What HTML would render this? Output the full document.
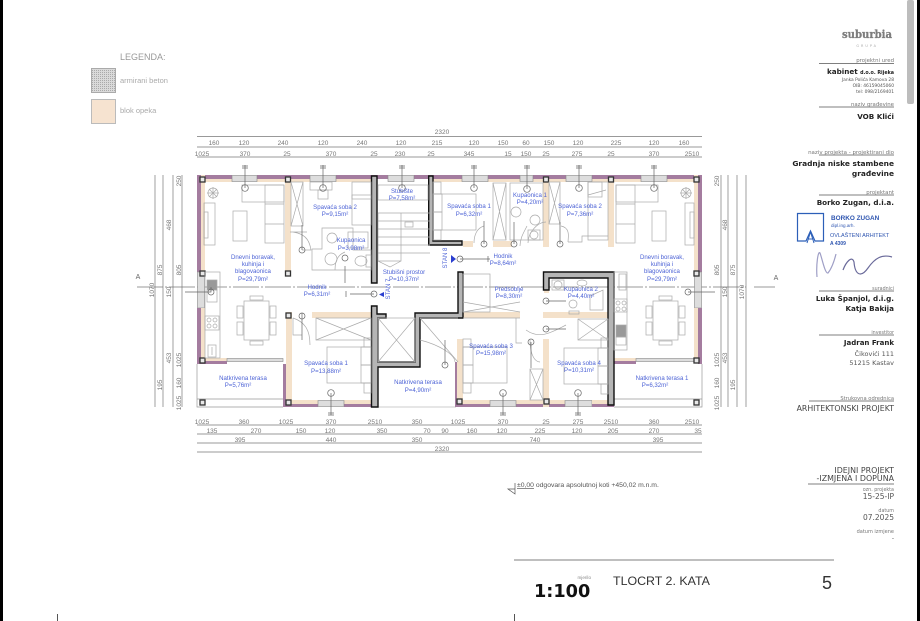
<!DOCTYPE html>
<html><head><meta charset="utf-8"><style>
html,body{margin:0;padding:0;background:#fff;width:920px;height:621px;overflow:hidden}
svg{display:block;font-family:"Liberation Sans",sans-serif;filter:blur(.3px)}
.d{font-size:6.5px;fill:#777;text-anchor:middle}
.l line,.l path{stroke:#777;stroke-width:.7;fill:none}
.r{font-size:6.1px;fill:#4d63d6;text-anchor:middle}
.f *{fill:none;stroke:#aaa;stroke-width:.7}
.m *{fill:none;stroke:#666;stroke-width:.7}
.t{fill:#f4e1ca}
.p{fill:#a47c9f}
.w{fill:#ddd;stroke:#888;stroke-width:.6}
.k{fill:#b5b5b5;stroke:#111;stroke-width:1.4}
.s{font-family:"DejaVu Sans",sans-serif;text-anchor:end}
.h{font-size:5.4px;fill:#777}
.b{font-size:7.2px;font-weight:bold;fill:#222}
.g{stroke:#555;stroke-width:.7}
</style></head><body>
<svg width="920" height="621" viewBox="0 0 920 621" xmlns="http://www.w3.org/2000/svg">
<defs><pattern id="hx" width="2" height="2" patternUnits="userSpaceOnUse"><rect width="2" height="2" fill="#dadada"/><rect width="1" height="1" fill="#aaa"/></pattern></defs>
<rect x="0" y="0" width="3" height="621" fill="#000"/>
<rect x="917" y="0" width="3" height="621" fill="#000"/>
<rect x="907" y="0" width="7" height="104" rx="2" fill="#bdbdbd"/>
<rect x="57" y="614" width="1" height="7" fill="#555"/>
<rect x="514" y="614" width="1" height="7" fill="#555"/>

<!-- legend -->
<text x="120" y="60" font-size="9" fill="#999">LEGENDA:</text>
<rect x="91.500" y="68.500" width="24" height="24" fill="url(#hx)" stroke="#aaa"/>
<text x="120" y="83" font-size="7.500" fill="#aaa">armirani beton</text>
<rect x="91.500" y="99.500" width="24" height="24" fill="#f6e3d0" stroke="#bbb"/>
<text x="120" y="113" font-size="7.500" fill="#aaa">blok opeka</text>

<!-- dimension lines -->
<g class="l">
<line x1="197" y1="136.500" x2="702" y2="136.500"/>
<line x1="197" y1="147" x2="702" y2="147"/>
<line x1="197" y1="157" x2="702" y2="157"/>
<line x1="197" y1="425" x2="702" y2="425"/>
<line x1="197" y1="434" x2="702" y2="434"/>
<line x1="197" y1="443" x2="702" y2="443"/>
<line x1="197" y1="452" x2="702" y2="452"/>
<line x1="155" y1="175" x2="155" y2="407"/>
<line x1="163" y1="175" x2="163" y2="407"/>
<line x1="173" y1="175" x2="173" y2="407"/>
<line x1="182" y1="175" x2="182" y2="407"/>
<line x1="721" y1="175" x2="721" y2="407"/>
<line x1="728" y1="175" x2="728" y2="407"/>
<line x1="737" y1="175" x2="737" y2="407"/>
<line x1="746" y1="175" x2="746" y2="407"/>
<path stroke-dasharray="26 2 2 2" d="M137 287H746"/>
<path d="M754 287H775"/>
</g>
<g class="d">
<text x="442" y="134">2320</text>
<text x="214" y="145">160</text><text x="244" y="145">120</text><text x="283" y="145">240</text><text x="323" y="145">120</text><text x="362" y="145">240</text><text x="401" y="145">120</text><text x="437" y="145">215</text><text x="474" y="145">120</text><text x="503" y="145">150</text><text x="526" y="145">60</text><text x="549" y="145">150</text><text x="578" y="145">120</text><text x="616" y="145">225</text><text x="654" y="145">120</text><text x="684" y="145">160</text>
<text x="202" y="156">1025</text><text x="245" y="156">370</text><text x="287" y="156">25</text><text x="331" y="156">370</text><text x="374" y="156">25</text><text x="400" y="156">230</text><text x="431" y="156">25</text><text x="469" y="156">345</text><text x="508" y="156">15</text><text x="526" y="156">150</text><text x="546" y="156">25</text><text x="577" y="156">275</text><text x="611" y="156">25</text><text x="654" y="156">370</text><text x="692" y="156">2510</text>
<text x="202" y="424">1025</text><text x="244" y="424">360</text><text x="286" y="424">1025</text><text x="331" y="424">370</text><text x="375" y="424">2510</text><text x="417" y="424">350</text><text x="458" y="424">1025</text><text x="503" y="424">370</text><text x="546" y="424">25</text><text x="578" y="424">275</text><text x="611" y="424">2510</text><text x="654" y="424">360</text><text x="692" y="424">2510</text>
<text x="212" y="433">135</text><text x="256" y="433">270</text><text x="301" y="433">150</text><text x="330" y="433">120</text><text x="382" y="433">350</text><text x="427" y="433">70</text><text x="445" y="433">90</text><text x="472" y="433">160</text><text x="502" y="433">120</text><text x="540" y="433">225</text><text x="577" y="433">120</text><text x="613" y="433">205</text><text x="654" y="433">270</text><text x="698" y="433">35</text>
<text x="240" y="442">395</text><text x="331" y="442">440</text><text x="417" y="442">350</text><text x="535" y="442">740</text><text x="658" y="442">395</text>
<text x="442" y="451">2320</text>
<text transform="translate(181,181) rotate(-90)">250</text>
<text transform="translate(171,225) rotate(-90)">468</text>
<text transform="translate(162,270) rotate(-90)">875</text>
<text transform="translate(181,270) rotate(-90)">805</text>
<text transform="translate(154,290) rotate(-90)">1070</text>
<text transform="translate(171,292) rotate(-90)">150</text>
<text transform="translate(171,358) rotate(-90)">453</text>
<text transform="translate(181,360) rotate(-90)">1025</text>
<text transform="translate(162,385) rotate(-90)">195</text>
<text transform="translate(181,383) rotate(-90)">160</text>
<text transform="translate(181,403) rotate(-90)">1025</text>
<text transform="translate(719,181) rotate(-90)">250</text>
<text transform="translate(727,225) rotate(-90)">468</text>
<text transform="translate(719,270) rotate(-90)">805</text>
<text transform="translate(735,270) rotate(-90)">875</text>
<text transform="translate(727,292) rotate(-90)">150</text>
<text transform="translate(744,292) rotate(-90)">1070</text>
<text transform="translate(719,360) rotate(-90)">1025</text>
<text transform="translate(727,358) rotate(-90)">453</text>
<text transform="translate(719,383) rotate(-90)">160</text>
<text transform="translate(735,385) rotate(-90)">195</text>
<text transform="translate(719,403) rotate(-90)">1025</text>
</g>
<text x="138" y="279" font-size="7" fill="#666" text-anchor="middle">A</text>
<text x="776" y="280" font-size="7" fill="#666" text-anchor="middle">A</text>

<!-- terrace outlines -->
<g stroke="#999" stroke-width=".7" fill="none">
<path d="M197 364V407H283"/><path d="M197 399H283"/>
<path d="M702 364V407H614"/><path d="M614 399H702"/>
<path d="M378 367V407M456 375V407"/>
<path d="M378 407H456" stroke="#bbb"/>
</g>

<!-- top outer wall -->
<g>
<rect class="p" x="197" y="175" width="35" height="4"/><rect class="t" x="201" y="179" width="31" height="3"/>
<rect class="p" x="257" y="175" width="53" height="4"/><rect class="t" x="257" y="179" width="53" height="3"/>
<rect class="p" x="336" y="175" width="52" height="4"/><rect class="t" x="336" y="179" width="35" height="3"/>
<rect class="p" x="414" y="175" width="48" height="4"/><rect class="t" x="433" y="179" width="29" height="3"/>
<rect class="p" x="488" y="175" width="32" height="4"/><rect class="t" x="488" y="179" width="32" height="3"/>
<rect class="p" x="533" y="175" width="33" height="4"/><rect class="t" x="533" y="179" width="33" height="3"/>
<rect class="p" x="592" y="175" width="49" height="4"/><rect class="t" x="592" y="179" width="49" height="3"/>
<rect class="p" x="667" y="175" width="35" height="4"/><rect class="t" x="667" y="179" width="31" height="3"/>
<rect class="w" x="232" y="175.500" width="25" height="6"/><rect class="w" x="310" y="175.500" width="26" height="6"/><rect class="w" x="388" y="175.500" width="26" height="6"/><rect class="w" x="462" y="175.500" width="26" height="6"/><rect class="w" x="520" y="175.500" width="13" height="6"/><rect class="w" x="566" y="175.500" width="26" height="6"/><rect class="w" x="641" y="175.500" width="26" height="6"/>
</g>
<!-- left / right outer walls -->
<rect class="p" x="197" y="175" width="4" height="97"/><rect class="t" x="201" y="175" width="4" height="97"/>
<rect class="p" x="698" y="175" width="4" height="97"/><rect class="t" x="694" y="175" width="4" height="97"/>
<rect class="w" x="197.500" y="272" width="7" height="36"/><rect class="w" x="694.500" y="272" width="7" height="36"/>
<rect class="p" x="197" y="308" width="4" height="56"/><rect class="t" x="201" y="308" width="4" height="50"/>
<rect class="p" x="698" y="308" width="4" height="56"/><rect class="t" x="694" y="308" width="4" height="50"/>
<!-- terrace sill walls -->
<rect class="p" x="197" y="361" width="30" height="3"/><rect class="t" x="205" y="358" width="22" height="3"/>
<rect class="p" x="614" y="361" width="22" height="3"/><rect class="t" x="614" y="358" width="22" height="3"/>
<rect class="w" x="227" y="358.500" width="56" height="3"/><rect class="w" x="636" y="358.500" width="58" height="3"/>
<!-- inner / lower tan walls -->
<rect class="t" x="285" y="177" width="6" height="98"/>
<rect class="t" x="286" y="312" width="6" height="95"/><rect class="p" x="283" y="364" width="3" height="43"/>
<rect class="t" x="312" y="312" width="59" height="6"/>
<rect class="t" x="286" y="400" width="32" height="4"/><rect class="p" x="283" y="404" width="35" height="3"/>
<rect class="t" x="344" y="400" width="27" height="4"/><rect class="p" x="344" y="404" width="34" height="3"/>
<rect class="w" x="318" y="400.500" width="26" height="6"/>
<rect class="p" x="378" y="364" width="42" height="3"/>
<!-- lower centre -->
<rect class="p" x="455" y="362" width="3" height="45"/><rect class="t" x="457" y="339" width="6" height="68"/>
<rect class="t" x="463" y="400" width="27" height="4"/><rect class="p" x="455" y="404" width="35" height="3"/>
<rect class="t" x="516" y="400" width="49" height="4"/><rect class="p" x="516" y="404" width="49" height="3"/>
<rect class="w" x="490" y="400.500" width="26" height="6"/><rect class="w" x="565" y="400.500" width="27" height="6"/>
<rect class="t" x="592" y="400" width="16" height="4"/><rect class="p" x="592" y="404" width="22" height="3"/>
<rect class="t" x="543" y="339" width="6" height="68"/>
<rect class="t" x="463" y="312" width="57" height="6"/>
<rect class="t" x="543" y="312" width="65" height="6"/><rect class="t" x="544" y="290" width="5" height="3"/>
<!-- upper right partition walls -->
<rect class="t" x="543" y="177" width="6" height="70"/>
<rect class="t" x="608" y="177" width="6" height="70"/>
<rect class="t" x="493" y="241" width="19" height="6"/><rect class="t" x="463" y="241" width="10" height="6"/>

<!-- RC walls -->
<path class="k" d="M371.500 176H377V283H371.500Z"/>
<path class="k" d="M428.700 176H433V241H462V245H428.700Z"/>
<path class="k" d="M371.500 306H377V314H386V318H378V362H415V313H458V272H463V318H420V367H378V407H371.500V318H371.500Z"/>
<path class="k" d="M543.500 272H614V405H608V278H549V290H543.500Z"/>

<!-- columns -->
<g fill="#e8e8e8" stroke="#333" stroke-width="1.300">
<rect x="200" y="177" width="5" height="5"/><rect x="285.500" y="177" width="5" height="5"/>
<rect x="200" y="271" width="5" height="5"/><rect x="285.500" y="271" width="5" height="5"/>
<rect x="200" y="358" width="5" height="5"/><rect x="286" y="313" width="5" height="5"/>
<rect x="286" y="400" width="5" height="5"/><rect x="200" y="400" width="5" height="5"/>
<rect x="543.500" y="177" width="5" height="5"/><rect x="608.500" y="177" width="5" height="5"/>
<rect x="694" y="177" width="5" height="5"/><rect x="694" y="271" width="5" height="5"/>
<rect x="694" y="358" width="5" height="5"/><rect x="694" y="400" width="5" height="5"/>
<rect x="544" y="399" width="5" height="5"/><rect x="457" y="399" width="5" height="5"/>
</g>

<!-- furniture -->
<g class="f">
<!-- left living -->
<rect x="242" y="185" width="42" height="17"/><rect x="265" y="185" width="19" height="58"/><line x1="265" y1="204" x2="284" y2="204"/><line x1="265" y1="224" x2="284" y2="224"/>
<rect x="233" y="211" width="14" height="30"/><rect x="204" y="203" width="11" height="42"/><rect x="204" y="212" width="4" height="26"/>
<circle cx="213" cy="193" r="5"/><line x1="207" y1="193" x2="219" y2="193"/><line x1="213" y1="187" x2="213" y2="199"/><line x1="209" y1="189" x2="217" y2="197"/><line x1="217" y1="189" x2="209" y2="197"/>
<!-- left wardrobe -->
<rect x="291" y="182" width="12" height="44"/><path d="M291 182L303 226M303 182L291 226"/>
<!-- bed top left -->
<rect x="352" y="182" width="19" height="17"/><rect x="352" y="195" width="19" height="30"/>
<rect x="310" y="182" width="22" height="8"/><rect x="318" y="190" width="10" height="9"/>
<!-- bath left -->
<path d="M322 232V249H312V270H371V250H353V228H322Z"/><circle cx="332" cy="238" r="5"/><rect x="348" y="232" width="20" height="16"/>
<ellipse cx="331" cy="259" rx="6" ry="6"/><ellipse cx="361" cy="261" rx="6" ry="5"/><rect x="366" y="255" width="5" height="12"/>
<path d="M307 232H290M293 232C308 234 310 244 311 250H302"/>
<path d="M335 270C335 258 340 254 345 252"/>
<!-- stairs -->
<path d="M378 213H430M378 221H430M378 229H430M378 237H430M378 245H430M378 253H430M378 261H401M378 213V261H401V213M401 213H430M401 261L390 267L378 261"/>
<rect x="378" y="185" width="50" height="15"/>
<rect x="405" y="222" width="8" height="5"/>
<!-- kitchen left -->
<rect x="205" y="272" width="15" height="86"/><rect x="207" y="280" width="10" height="10" fill="#999" style="fill:#999"/><rect x="207" y="290" width="10" height="12"/>
<rect x="205" y="316" width="14" height="14"/><circle cx="209" cy="320" r="2"/><circle cx="215" cy="320" r="2"/><circle cx="209" cy="326" r="2"/><circle cx="215" cy="326" r="2"/>
<rect x="208" y="345" width="8" height="12"/><line x1="212" y1="347" x2="212" y2="355"/>
<!-- table left -->
<rect x="244" y="301" width="25" height="39"/><rect x="250" y="296" width="13" height="4"/><rect x="250" y="341" width="13" height="4"/><rect x="237" y="306" width="6" height="12"/><rect x="237" y="322" width="6" height="13"/><rect x="270" y="306" width="6" height="12"/><rect x="270" y="322" width="6" height="13"/>
<!-- table right -->
<rect x="653" y="301" width="25" height="39"/><rect x="659" y="296" width="13" height="4"/><rect x="659" y="341" width="13" height="4"/><rect x="646" y="306" width="6" height="12"/><rect x="646" y="322" width="6" height="13"/><rect x="679" y="306" width="6" height="12"/><rect x="679" y="322" width="6" height="13"/>
<!-- right living -->
<rect x="616" y="185" width="42" height="17"/><rect x="616" y="185" width="19" height="58"/><line x1="616" y1="204" x2="635" y2="204"/><line x1="616" y1="224" x2="635" y2="224"/>
<rect x="652" y="211" width="14" height="30"/><rect x="685" y="203" width="9" height="42"/><rect x="690" y="212" width="4" height="26"/>
<circle cx="686" cy="193" r="5"/><line x1="680" y1="193" x2="692" y2="193"/><line x1="686" y1="187" x2="686" y2="199"/><line x1="682" y1="189" x2="690" y2="197"/><line x1="690" y1="189" x2="682" y2="197"/>
<!-- kitchen right -->
<rect x="614" y="272" width="13" height="78"/><rect x="616" y="325" width="10" height="12" style="fill:#999"/><rect x="616" y="337" width="10" height="8"/>
<rect x="614" y="299" width="13" height="13"/><circle cx="618" cy="303" r="2"/><circle cx="624" cy="303" r="2"/><circle cx="618" cy="309" r="2"/><circle cx="624" cy="309" r="2"/>
<rect x="619" y="274" width="7" height="16"/>
<!-- bed room 1 -->
<rect x="433" y="194" width="43" height="36"/><rect x="433" y="194" width="9" height="18"/><rect x="433" y="212" width="9" height="18"/><rect x="433" y="182" width="8" height="12"/><rect x="433" y="230" width="8" height="10"/>
<path d="M474 243C474 235 477 228 484 226"/>
<rect x="493" y="183" width="13" height="57"/><path d="M493 183L506 240M506 183L493 240"/>
<rect x="510" y="183" width="33" height="57"/><circle cx="516" cy="212" r="5"/><ellipse cx="535" cy="220" rx="5" ry="5"/><rect x="528" y="230" width="12" height="10"/><circle cx="534" cy="235" r="4"/>
<path d="M520 246C520 238 524 232 527 226M546 222C538 222 528 232 528 243"/>
<!-- room 2 top right -->
<rect x="549" y="182" width="11" height="42"/><path d="M549 182L560 224M560 182L549 224"/>
<rect x="588" y="182" width="20" height="58"/><rect x="588" y="182" width="14" height="15"/><path d="M588 195L606 190"/>
<path d="M568 242H582V236H608"/><path d="M561 226C571 228 568 238 568 242"/>
<!-- hall lines -->
<rect x="463" y="274" width="27" height="38"/><path d="M463 318H520"/><path d="M463 302L520 312M520 302L463 312"/>
<!-- wc right -->
<rect x="552" y="280" width="12" height="10"/><circle cx="558" cy="285" r="4"/><ellipse cx="582" cy="283" rx="5" ry="3"/><circle cx="573" cy="304" r="4"/><rect x="569" y="311" width="10" height="3"/>
<path d="M590 310V296L603 290V310Z"/><rect x="578" y="319" width="30" height="21"/><path d="M578 319L608 340M608 319L578 340"/>
<path d="M526 330C540 340 552 332 566 325"/>
<!-- hall door -->
<path d="M516 318V343H522"/><path d="M530 340C530 357 536 362 540 362"/><rect x="530" y="369" width="13" height="31"/><path d="M530 369L543 400M543 369L530 400"/>
<!-- lower right bed -->
<rect x="564" y="348" width="44" height="36"/><rect x="598" y="348" width="10" height="18"/><rect x="598" y="366" width="10" height="18"/><rect x="601" y="338" width="7" height="10"/><rect x="601" y="384" width="7" height="10"/>
<!-- lower mid bed -->
<rect x="463" y="347" width="44" height="36"/><rect x="463" y="347" width="10" height="18"/><rect x="463" y="365" width="10" height="18"/><rect x="463" y="339" width="8" height="8"/><rect x="463" y="383" width="8" height="10"/>
<!-- lower left bed -->
<rect x="327" y="347" width="44" height="36"/><rect x="361" y="347" width="10" height="18"/><rect x="361" y="365" width="10" height="18"/><rect x="364" y="338" width="7" height="9"/><rect x="364" y="383" width="7" height="10"/>
<rect x="316" y="318" width="55" height="22"/><path d="M316 318L371 340M371 318L316 340"/>
<path d="M293 318C305 322 310 330 310 345M293 318V335H302"/>
<!-- shafts -->
<rect x="378" y="318" width="37" height="44"/><path d="M378 318L415 362M415 318L378 362"/>
<path d="M420 318H458M420 318L458 362"/>
<path d="M420 340C440 345 455 355 455 362"/>
</g>

<!-- grid markers -->
<g class="m">
<path d="M245 165V188M323 165V188M402 165V188M474 165V188M527 165V189M579 165V188M654 165V188M331 393V415M503 393V415M578 393V415"/>
<path d="M242 166H248M242 168H248M320 166H326M320 168H326M399 166H405M399 168H405M471 166H477M471 168H477M524 166H530M524 168H530M576 166H582M576 168H582M651 166H657M651 168H657M328 413H334M328 415H334M500 413H506M500 415H506M575 413H581M575 415H581"/>
<circle cx="245" cy="188" r="3.300"/><circle cx="323" cy="188" r="3.300"/><circle cx="402" cy="188" r="3.300"/><circle cx="474" cy="188" r="3.300"/><circle cx="527" cy="189" r="3.300"/><circle cx="579" cy="188" r="3.300"/><circle cx="654" cy="188" r="3.300"/>
<circle cx="331" cy="393" r="3.300"/><circle cx="503" cy="393" r="3.300"/><circle cx="578" cy="393" r="3.300"/>
<path d="M302 225V250M345 283V266M514 222V244M484 221V244M560 222V244"/>
<circle cx="302" cy="250" r="3"/><circle cx="345" cy="258" r="3"/><circle cx="484" cy="244" r="3"/><circle cx="514" cy="244" r="3"/><circle cx="560" cy="244" r="3"/>
<path d="M460 259H490M488 256V262"/><circle cx="460" cy="259" r="3"/>
<path d="M374 294H350M346 291V297"/><circle cx="374" cy="294" r="3"/>
<path d="M211 287V292H185" stroke="#000"/><circle cx="211" cy="292" r="3"/>
<path d="M688 292H715"/><circle cx="688" cy="292" r="3"/>
<path d="M302 313V340"/><circle cx="302" cy="316" r="3"/>
<path d="M546 301H566M546 329H566"/><circle cx="546" cy="301" r="3"/><circle cx="546" cy="329" r="3"/>
<circle cx="531" cy="342" r="3"/><path d="M531 342V368"/>
<circle cx="445" cy="365" r="3"/><path d="M445 365V340"/>
</g>
<path d="M451 255L456 259L451 263Z" fill="#2a3ed0"/>
<path d="M384 292V297L379 294.500Z" fill="#2a3ed0"/>

<!-- room labels -->
<g class="r">
<text x="335" y="209">Spavaća soba 2</text><text x="335" y="216">P=9,15m²</text>
<text x="402" y="193">Stubište</text><text x="402" y="200">P=7,58m²</text>
<text x="351" y="242">Kupaonica</text><text x="351" y="250">P=3,98m²</text>
<text x="253" y="259">Dnevni boravak,</text><text x="253" y="266">kuhinja i</text><text x="253" y="273">blagovaonica</text><text x="253" y="281">P=29,79m²</text>
<text x="317" y="289">Hodnik</text><text x="317" y="296">P=6,31m²</text>
<text x="404" y="274">Stubišni prostor</text><text x="404" y="281">P=10,37m²</text>
<text x="469" y="208">Spavaća soba 1</text><text x="469" y="216">P=6,32m²</text>
<text x="530" y="197">Kupaonica 1</text><text x="530" y="204">P=4,20m²</text>
<text x="580" y="208">Spavaća soba 2</text><text x="580" y="216">P=7,36m²</text>
<text x="503" y="258">Hodnik</text><text x="503" y="265">P=8,64m²</text>
<text x="662" y="259">Dnevni boravak,</text><text x="662" y="266">kuhinja i</text><text x="662" y="273">blagovaonica</text><text x="662" y="281">P=29,79m²</text>
<text x="509" y="291">Predsoblje</text><text x="509" y="298">P=8,30m²</text>
<text x="581" y="291">Kupaonica 2</text><text x="581" y="298">P=4,40m²</text>
<text x="326" y="365">Spavaća soba 1</text><text x="326" y="373">P=13,88m²</text>
<text x="243" y="380">Natkrivena terasa</text><text x="238" y="387">P=5,76m²</text>
<text x="418" y="384">Natkrivena terasa</text><text x="418" y="392">P=4,90m²</text>
<text x="491" y="348">Spavaća soba 3</text><text x="491" y="355">P=15,98m²</text>
<text x="579" y="365">Spavaća soba 4</text><text x="579" y="372">P=10,31m²</text>
<text x="662" y="380">Natkrivena terasa 1</text><text x="655" y="387">P=6,32m²</text>
<text transform="translate(447,258) rotate(-90)">STAN 8</text>
<text transform="translate(390,289) rotate(-90)">STAN 7</text>
</g>

<!-- title block -->
<g class="s">
<text x="892" y="38" font-size="11" font-weight="bold" fill="#7d7d7d" stroke="#7d7d7d" stroke-width=".3" style="font-family:'DejaVu Serif','Liberation Serif',serif" textLength="50" lengthAdjust="spacingAndGlyphs">suburbia</text>
<text x="878" y="47" font-size="3.400" fill="#aaa" letter-spacing="2">GRUPA</text>
<text x="894" y="62" class="h">projektni ured</text>
<text x="894" y="74" class="b">kabinet <tspan font-size="4.800">d.o.o. Rijeka</tspan></text>
<text x="894" y="81" font-size="4.400" fill="#555">Janka Polića Kamova 28</text>
<text x="894" y="87" font-size="4.400" fill="#555">OIB: 46159045060</text>
<text x="894" y="93" font-size="4.400" fill="#555">tel: 098/2169401</text>
<text x="894" y="106" class="h">naziv građevine</text>
<text x="894" y="119" class="b">VOB Klići</text>
<text x="894" y="154" class="h" style="font-size:5.500px">naziv projekta - projektirani dio</text>
<text x="894" y="166" class="b" style="font-size:7.450px">Gradnja niske stambene</text>
<text x="894" y="176" class="b" style="font-size:7.450px">građevine</text>
<text x="894" y="194" class="h">projektant</text>
<text x="894" y="205" class="b">Borko Zugan, d.i.a.</text>
<text x="894" y="290" class="h" style="font-size:4.800px">suradnici</text>
<text x="894" y="301" class="b">Luka Španjol, d.i.g.</text>
<text x="894" y="311" class="b">Katja Bakija</text>
<text x="894" y="334" class="h" style="font-size:4.800px">investitor</text>
<text x="894" y="345" class="b" style="font-size:7px">Jadran Frank</text>
<text x="894" y="356" font-size="6.500" fill="#555">Čikovići 111</text>
<text x="894" y="365" font-size="6.500" fill="#555">51215 Kastav</text>
<text x="894" y="400" class="h" style="font-size:5.200px">Strukovna odrednica</text>
<text x="894" y="411" font-size="7.800" fill="#444">ARHITEKTONSKI PROJEKT</text>
<text x="894" y="473" font-size="7.900" fill="#444">IDEJNI PROJEKT</text>
<text x="894" y="481" font-size="7.900" fill="#444">-IZMJENA I DOPUNA</text>
<text x="894" y="491" font-size="4.800" fill="#777">ozn. projekta</text>
<text x="894" y="499" font-size="7.500" fill="#555">15-25-IP</text>
<text x="894" y="512" font-size="4.800" fill="#777">datum</text>
<text x="894" y="520" font-size="7.500" fill="#555">07.2025</text>
<text x="894" y="533" font-size="5" fill="#777">datum izmjene</text>
<text x="894" y="540" font-size="6" fill="#555">-</text>
</g>
<g class="g">
<line x1="819" y1="63.500" x2="894" y2="63.500"/>
<line x1="819" y1="107" x2="894" y2="107"/>
<line x1="819" y1="155" x2="894" y2="155"/>
<line x1="819" y1="195" x2="894" y2="195"/>
<line x1="819" y1="291" x2="894" y2="291"/>
<line x1="819" y1="335" x2="894" y2="335"/>
<line x1="809" y1="401" x2="894" y2="401"/>
<line x1="808" y1="484" x2="894" y2="484"/>
<line x1="514" y1="560" x2="834" y2="560"/>
</g>

<!-- stamp -->
<path d="M797.500 213.500H823.500V241H815L810.500 231L806 241H797.500Z" fill="none" stroke="#2c5fb8" stroke-width="1.200"/>
<path d="M807 243L810.500 232L814 243M808 239H813" fill="none" stroke="#2c5fb8" stroke-width="1"/>
<g font-family="Liberation Sans,sans-serif" fill="#2e55b0">
<text x="831" y="220" font-size="6.400" font-weight="bold">BORKO ZUGAN</text>
<text x="831" y="227" font-size="4.600">dipl.ing.arh.</text>
<text x="830" y="237" font-size="5.500">OVLAŠTENI ARHITEKT</text>
<text x="830" y="245" font-size="5" font-weight="bold">A 4309</text>
</g>
<path d="M817 277C816 265 818 250 820 253C822 258 825 274 828 273C832 268 835 258 836 254" fill="none" stroke="#9f9fc6" stroke-width="1.200"/>
<path d="M843 270C846 262 852 255 854 262C855 275 861 278 868 268C875 258 882 254 892 257" fill="none" stroke="#6a6a9a" stroke-width="1.200"/>

<!-- bottom -->
<path d="M515 483V494L508 489H515" fill="none" stroke="#555" stroke-width=".7"/>
<text x="517" y="487" font-size="6.800" fill="#555"><tspan text-decoration="underline">±0,00</tspan> odgovara apsolutnoj koti +450,02 m.n.m.</text>
<text x="591" y="579" font-size="4.600" fill="#888" text-anchor="end">mjerilo</text>
<text x="534" y="597" font-size="17.700" font-weight="bold" fill="#111" style="font-family:'DejaVu Sans',sans-serif">1:100</text>
<text x="613" y="585" font-size="12.400" fill="#333">TLOCRT 2. KATA</text>
<text x="822" y="589" font-size="18" fill="#333">5</text>
</svg>
</body></html>
